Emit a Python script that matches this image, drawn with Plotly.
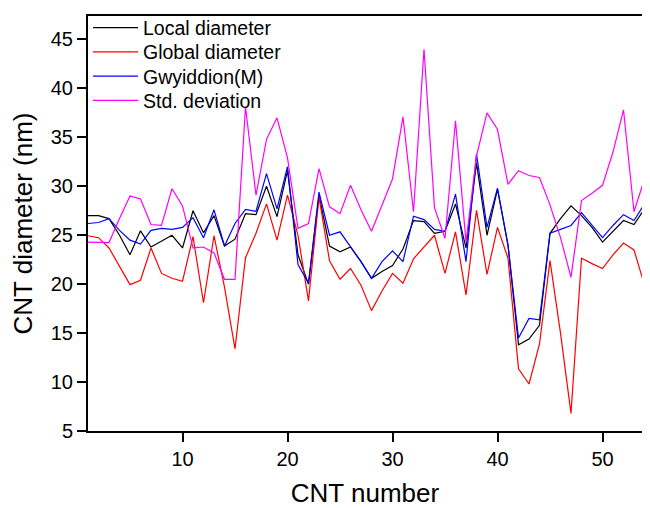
import plotly.graph_objects as go

cnt_number = list(range(1, 56))

local_diameter = [27.0, 27.0, 26.7, 25.0, 23.0, 25.45, 23.8, 24.4, 25.0, 23.7,
                  27.5, 25.25, 27.0, 23.9, 24.6, 27.2, 27.1, 30.0, 26.9, 31.6,
                  23.0, 20.0, 29.1, 23.9, 23.3, 23.8, 22.3, 20.6, 21.3, 21.9,
                  23.6, 26.5, 26.4, 25.2, 25.4, 28.2, 23.7, 32.4, 25.0, 29.7,
                  24.0, 13.8, 14.4, 15.8, 25.2, 26.7, 28.0, 27.0, 25.8, 24.3,
                  25.4, 26.5, 26.1, 27.7, 20.0]

global_diameter = [24.95, 24.75, 23.7, 21.8, 19.95, 20.4, 23.7, 21.1, 20.6, 20.3,
                   24.85, 18.1, 24.95, 19.7, 13.4, 22.7, 25.2, 28.2, 24.5, 29.1,
                   25.0, 18.3, 28.9, 22.4, 20.5, 21.6, 19.9, 17.3, 19.3, 21.1,
                   20.1, 22.6, 23.8, 25.0, 21.1, 25.35, 18.9, 27.55, 21.0, 25.8,
                   22.65, 11.35, 9.8, 13.9, 22.4, 15.0, 6.8, 22.65, 22.1, 21.6,
                   23.0, 24.2, 23.5, 19.9, 15.0]

gwyddion_m = [26.2, 26.3, 26.7, 25.5, 24.5, 24.1, 25.5, 25.7, 25.6, 25.8,
              26.8, 24.75, 27.6, 23.9, 26.2, 27.65, 27.45, 31.3, 27.7, 32.0,
              22.0, 20.1, 29.4, 25.0, 25.35, 23.8, 22.3, 20.6, 22.3, 23.4,
              22.3, 26.95, 26.6, 25.6, 25.4, 29.2, 22.3, 33.3, 25.8, 29.8,
              24.0, 14.5, 16.5, 16.35, 25.2, 25.6, 26.0, 27.3, 26.0, 24.75,
              26.0, 27.1, 26.5, 28.2, 22.0]

std_deviation = [24.3, 24.3, 24.25, 26.7, 29.0, 28.7, 26.1, 26.0, 29.75, 28.0,
                 23.7, 23.8, 23.2, 20.5, 20.5, 38.1, 29.1, 34.8, 37.0, 32.9,
                 25.7, 26.2, 31.8, 27.9, 27.2, 30.1, 27.6, 25.4, 28.1, 30.75,
                 37.1, 27.4, 44.0, 27.8, 24.7, 36.7, 24.3, 33.1, 37.5, 35.8,
                 30.2, 31.6, 31.1, 30.9, 28.1, 24.75, 20.7, 28.55, 29.3, 30.1,
                 33.5, 37.8, 27.4, 30.75, 30.3]

series = [
    ("Local diameter", local_diameter, "#000000"),
    ("Global diameter", global_diameter, "#FF0000"),
    ("Gwyiddion(M)", gwyddion_m, "#0000FF"),
    ("Std. deviation", std_deviation, "#FF00FF"),
]

font_family = "Liberation Sans, Arial, sans-serif"

# page body has an 8px margin; plot area spans top 4 .. bottom 423 in figure coords
FIG_W, FIG_H = 634, 500
PLOT_LEFT, PLOT_TOP, PLOT_BOTTOM = 80, 4, 423
PLOT_H = PLOT_BOTTOM - PLOT_TOP
PLOT_W = FIG_W - PLOT_LEFT
legend_rows_px = [16, 40.5, 65, 89.5]
legend_ids = ["legend", "legend2", "legend3", "legend4"]

fig = go.Figure()
for (name, vals, color), lid in zip(series, legend_ids):
    fig.add_trace(go.Scatter(x=cnt_number, y=vals, mode="lines", name=name,
                             legend=lid, line=dict(color=color, width=1.2)))

layout_legends = {}
for lid, ypx in zip(legend_ids, legend_rows_px):
    layout_legends[lid] = dict(
        x=0.0, y=(PLOT_BOTTOM - ypx) / PLOT_H, xanchor="left", yanchor="middle",
        bgcolor="rgba(0,0,0,0)", borderwidth=0,
        font=dict(family=font_family, size=19.5, color="black"),
        itemwidth=45)

fig.update_layout(
    width=FIG_W, height=FIG_H,
    margin=dict(l=PLOT_LEFT, r=0, t=PLOT_TOP, b=FIG_H - PLOT_BOTTOM, pad=0),
    paper_bgcolor="white", plot_bgcolor="white",
    font=dict(family=font_family, color="black", size=20),
    showlegend=True,
    xaxis=dict(range=[1, 1 + PLOT_W / 10.5], tick0=0, dtick=10, showgrid=False, zeroline=False,
               showline=True, linecolor="black", linewidth=2, mirror=True,
               ticks="outside", ticklen=9, tickwidth=2, tickcolor="black",
               automargin=False,
               tickfont=dict(size=20, family=font_family),
               title=dict(text="CNT number", font=dict(size=26, family=font_family),
                          standoff=29)),
    yaxis=dict(range=[5, 47.4], tick0=5, dtick=5, showgrid=False, zeroline=False,
               showline=True, linecolor="black", linewidth=2, mirror=False,
               ticks="outside", ticklen=9, tickwidth=2, tickcolor="black",
               automargin=False,
               tickfont=dict(size=20, family=font_family),
               title=dict(text="CNT diameter (nm)", font=dict(size=26, family=font_family),
                          standoff=15)),
    **layout_legends,
)

fig.write_html("out.html")
